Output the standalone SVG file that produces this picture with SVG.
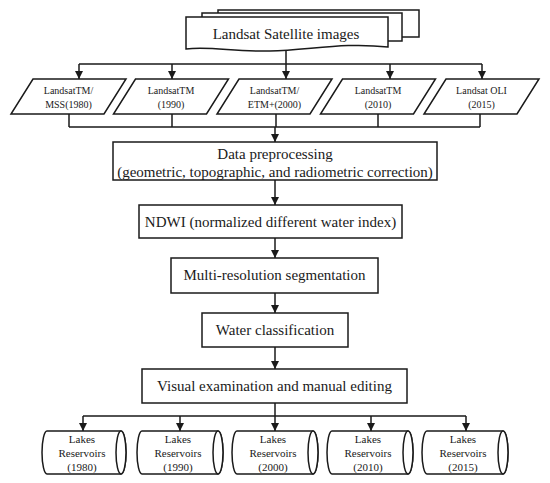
<svg xmlns="http://www.w3.org/2000/svg" width="550" height="483" viewBox="0 0 550 483">
<style>
.s{fill:#fff;stroke:#1a1a1a;stroke-width:1.5}
.c{fill:none;stroke:#1a1a1a;stroke-width:1.5}
text{font-family:"Liberation Serif","Times New Roman",serif;fill:#1a1a1a;text-anchor:middle}
.b{font-size:15px}
.p{font-size:10px}
.l{font-size:11px}
</style>
<defs>
<marker id="ah" markerUnits="userSpaceOnUse" markerWidth="10" markerHeight="10" refX="8" refY="4" orient="auto">
<path d="M0,0 L8,4 L0,8 Z" fill="#1a1a1a"/>
</marker>
</defs>
<rect width="550" height="483" fill="#fff"/>

<g id="n-landsat-images">
<rect class="s" x="218" y="10" width="201" height="27"/>
<rect class="s" x="202" y="13" width="200" height="28"/>
<path class="s" d="M186,17 H388 V47 C345,42 310,50 270,51 C235,52 210,46 186,49 Z"/>
<text class="b" x="286" y="39">Landsat Satellite images</text>
</g>

<g id="n-p1"><path class="s" d="M33,79 H126 L104,114 H11 Z"/><text class="p" x="68.5" y="94">LandsatTM/</text><text class="p" x="68.5" y="108">MSS(1980)</text></g>
<g id="n-p2"><path class="s" d="M135.5,79 H228.5 L206.5,114 H113.5 Z"/><text class="p" x="171" y="94">LandsatTM</text><text class="p" x="171" y="108">(1990)</text></g>
<g id="n-p3"><path class="s" d="M239,79 H332 L310,114 H217 Z"/><text class="p" x="274.5" y="94">LandsatTM/</text><text class="p" x="274.5" y="108">ETM+(2000)</text></g>
<g id="n-p4"><path class="s" d="M342.5,79 H435.5 L413.5,114 H320.5 Z"/><text class="p" x="378" y="94">LandsatTM</text><text class="p" x="378" y="108">(2010)</text></g>
<g id="n-p5"><path class="s" d="M446,79 H539 L517,114 H424 Z"/><text class="p" x="481.5" y="94">Landsat OLI</text><text class="p" x="481.5" y="108">(2015)</text></g>

<g id="n-preprocessing"><rect class="s" x="113" y="142" width="324" height="38"/>
<text class="b" x="275" y="159">Data preprocessing</text>
<text class="b" x="275" y="177">(geometric, topographic, and radiometric correction)</text></g>

<g id="n-ndwi"><rect class="s" x="139" y="205" width="263" height="33"/><text class="b" x="270.5" y="227">NDWI (normalized different water index)</text></g>
<g id="n-segmentation"><rect class="s" x="171" y="258" width="207" height="35"/><text class="b" x="274.5" y="280">Multi-resolution segmentation</text></g>
<g id="n-water"><rect class="s" x="202" y="313" width="146" height="34"/><text class="b" x="275" y="335">Water classification</text></g>
<g id="n-visual"><rect class="s" x="142" y="369" width="265" height="34"/><text class="b" x="274.5" y="391">Visual examination and manual editing</text></g>

<g id="n-c1"><path class="s" d="M47,431 H121 A5,21.5 0 0 1 121,474 H47 A5,21.5 0 0 1 47,431 Z"/><ellipse class="s" cx="121" cy="452.5" rx="5" ry="21.5"/>
<text class="l" x="82" y="443">Lakes</text><text class="l" x="82" y="457">Reservoirs</text><text class="l" x="82" y="471">(1980)</text></g>
<g id="n-c2"><path class="s" d="M142,431 H218 A5,21.5 0 0 1 218,474 H142 A5,21.5 0 0 1 142,431 Z"/><ellipse class="s" cx="218" cy="452.5" rx="5" ry="21.5"/>
<text class="l" x="178" y="443">Lakes</text><text class="l" x="178" y="457">Reservoirs</text><text class="l" x="178" y="471">(1990)</text></g>
<g id="n-c3"><path class="s" d="M237,431 H313 A5,21.5 0 0 1 313,474 H237 A5,21.5 0 0 1 237,431 Z"/><ellipse class="s" cx="313" cy="452.5" rx="5" ry="21.5"/>
<text class="l" x="273" y="443">Lakes</text><text class="l" x="273" y="457">Reservoirs</text><text class="l" x="273" y="471">(2000)</text></g>
<g id="n-c4"><path class="s" d="M332,431 H408 A5,21.5 0 0 1 408,474 H332 A5,21.5 0 0 1 332,431 Z"/><ellipse class="s" cx="408" cy="452.5" rx="5" ry="21.5"/>
<text class="l" x="368" y="443">Lakes</text><text class="l" x="368" y="457">Reservoirs</text><text class="l" x="368" y="471">(2010)</text></g>
<g id="n-c5"><path class="s" d="M427,431 H503 A5,21.5 0 0 1 503,474 H427 A5,21.5 0 0 1 427,431 Z"/><ellipse class="s" cx="503" cy="452.5" rx="5" ry="21.5"/>
<text class="l" x="463" y="443">Lakes</text><text class="l" x="463" y="457">Reservoirs</text><text class="l" x="463" y="471">(2015)</text></g>

<g id="connectors">
<path class="c" d="M286,51 V64 M79,64 H482"/>
<path class="c" d="M79,64 V79" marker-end="url(#ah)"/>
<path class="c" d="M172,64 V79" marker-end="url(#ah)"/>
<path class="c" d="M286,64 V79" marker-end="url(#ah)"/>
<path class="c" d="M390,64 V79" marker-end="url(#ah)"/>
<path class="c" d="M482,64 V79" marker-end="url(#ah)"/>
<path class="c" d="M69,114 V127 M172,114 V127 M276,114 V127 M378,114 V127 M480,114 V127 M69,127 H480"/>
<path class="c" d="M275,127 V142" marker-end="url(#ah)"/>
<path class="c" d="M275,180 V205" marker-end="url(#ah)"/>
<path class="c" d="M275,238 V258" marker-end="url(#ah)"/>
<path class="c" d="M275,293 V313" marker-end="url(#ah)"/>
<path class="c" d="M275,347 V369" marker-end="url(#ah)"/>
<path class="c" d="M275,403 V416 M83,416 H466"/>
<path class="c" d="M83,416 V431" marker-end="url(#ah)"/>
<path class="c" d="M180,416 V431" marker-end="url(#ah)"/>
<path class="c" d="M275,416 V431" marker-end="url(#ah)"/>
<path class="c" d="M371,416 V431" marker-end="url(#ah)"/>
<path class="c" d="M466,416 V431" marker-end="url(#ah)"/>
</g>
</svg>
